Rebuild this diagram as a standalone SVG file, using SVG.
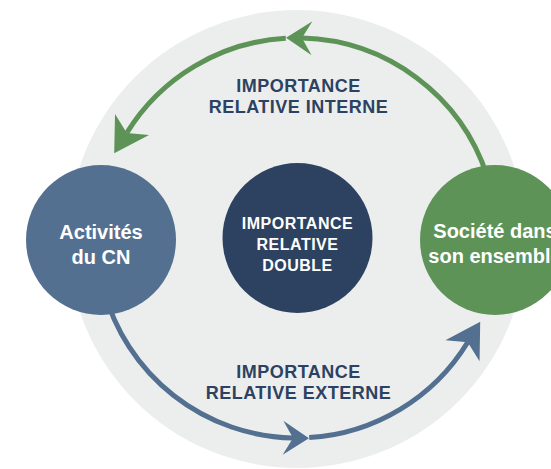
<svg xmlns="http://www.w3.org/2000/svg" width="551" height="469" viewBox="0 0 551 469">
  <style>
    .bg { fill: #ECEEEE; }
    .arc { fill: none; stroke-width: 5; }
    .green { stroke: #5E9358; }
    .blue { stroke: #547090; }
    .lbl { font-family: "Liberation Sans", Arial, sans-serif; font-weight: bold; font-size: 18px; fill: #2C4260; text-anchor: middle; letter-spacing: 0.5px; }
    .node-txt { font-family: "Liberation Sans", Arial, sans-serif; font-weight: bold; font-size: 20px; fill: #FFFFFF; text-anchor: middle; }
    .core-txt { font-family: "Liberation Sans", Arial, sans-serif; font-weight: bold; font-size: 16px; fill: #FFFFFF; text-anchor: middle; letter-spacing: 0.5px; }
  </style>
  <defs>
    <marker id="endGreen" markerUnits="userSpaceOnUse" viewBox="0 0 34 40" markerWidth="34" markerHeight="40" refX="10" refY="20" orient="auto" overflow="visible">
      <polygon points="0,0 34,20 0,40 10,20" fill="#5E9358"/>
    </marker>
    <marker id="midGreen" markerUnits="userSpaceOnUse" viewBox="0 0 26 34" markerWidth="26" markerHeight="34" refX="10" refY="17" orient="auto" overflow="visible">
      <polygon points="0,0 26,17 0,34 10,17" fill="#5E9358"/>
    </marker>
    <marker id="endBlue" markerUnits="userSpaceOnUse" viewBox="0 0 34 40" markerWidth="34" markerHeight="40" refX="10" refY="20" orient="auto" overflow="visible">
      <polygon points="0,0 34,20 0,40 10,20" fill="#547090"/>
    </marker>
    <marker id="midBlue" markerUnits="userSpaceOnUse" viewBox="0 0 26 34" markerWidth="26" markerHeight="34" refX="10" refY="17" orient="auto" overflow="visible">
      <polygon points="0,0 26,17 0,34 10,17" fill="#547090"/>
    </marker>
  </defs>

  <circle class="bg" cx="297" cy="239" r="229"/>

  <g id="connectors">
    <path class="arc green" d="M 487.2,176.2 A 200 200 0 0 0 302,38.1" marker-end="url(#midGreen)"/>
    <path class="arc green" d="M 285.8,38.3 A 200 200 0 0 0 126.8,132.9" marker-end="url(#endGreen)"/>
    <path class="arc blue" d="M 103.8,289.8 A 200 200 0 0 0 293,438" marker-end="url(#midBlue)"/>
    <path class="arc blue" d="M 309.2,437.6 A 200 200 0 0 0 467.7,342.2" marker-end="url(#endBlue)"/>
  </g>

  <g id="label-interne">
    <text class="lbl" x="298.5" y="92">IMPORTANCE</text>
    <text class="lbl" x="298.5" y="113">RELATIVE INTERNE</text>
  </g>
  <g id="label-externe">
    <text class="lbl" x="298.5" y="378">IMPORTANCE</text>
    <text class="lbl" x="298.5" y="399">RELATIVE EXTERNE</text>
  </g>

  <g id="node-activites">
    <circle cx="101" cy="240" r="75" fill="#547090"/>
    <text class="node-txt" x="101" y="239">Activités</text>
    <text class="node-txt" x="101" y="264">du CN</text>
  </g>

  <g id="node-double">
    <circle cx="297.5" cy="238" r="75" fill="#2C4260"/>
    <text class="core-txt" x="297.5" y="229">IMPORTANCE</text>
    <text class="core-txt" x="297.5" y="250">RELATIVE</text>
    <text class="core-txt" x="297.5" y="271">DOUBLE</text>
  </g>

  <g id="node-societe">
    <circle cx="495" cy="240" r="75" fill="#5E9358"/>
    <text class="node-txt" x="495" y="238">Société dans</text>
    <text class="node-txt" x="495" y="263">son ensemble</text>
  </g>
</svg>
